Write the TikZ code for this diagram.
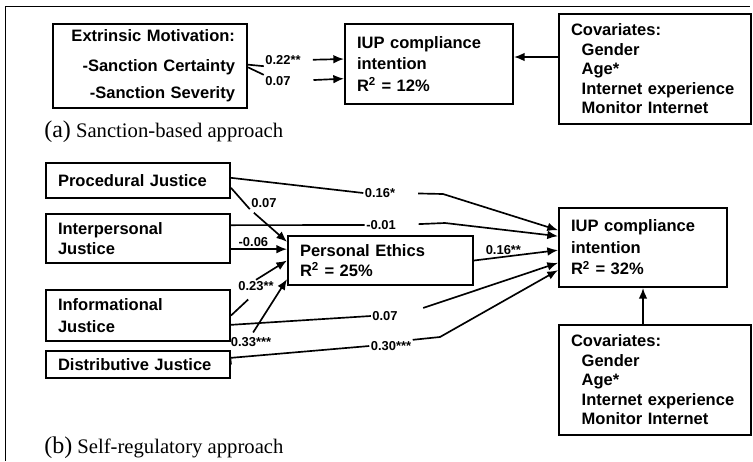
\documentclass[tikz,border=0pt]{standalone}
\usepackage{fontspec}
\setmainfont{Liberation Serif}
\newfontfamily\arialfont{Liberation Sans}
\usetikzlibrary{arrows.meta}

\begin{document}
\begin{tikzpicture}[x=0.75pt, y=-0.75pt,
  box/.style = {draw, line width=1.5pt, inner xsep=9pt, inner ysep=1pt, align=left, font=\arialfont\bfseries\fontsize{12.4}{14.6}\selectfont},
  jbox/.style = {box, minimum width=138pt, text width=120pt},
  iupbox/.style = {box, minimum width=126pt, minimum height=60pt, text width=108pt},
  covbox/.style = {box, minimum width=144pt, minimum height=82.5pt, text width=126pt},
  lab/.style = {inner sep=1pt, font=\arialfont\bfseries\fontsize{9.7}{11}\selectfont},
  captext/.style = {anchor=west, inner sep=0pt, font=\fontsize{15.5}{18}\selectfont},
  conn/.style = {line width=1.25pt},
  arr/.style = {line width=1.25pt, -{Latex[length=8pt,width=6.5pt]}}]

\useasboundingbox (0,0) rectangle (753,461);

% Frame
\draw[line width=0.7pt] (5,461) -- (5,6) -- (750,6);

% (a) boxes
\node[box, minimum width=145.5pt, minimum height=63pt, text width=127.5pt, align=right] (ext) at (150,66) {Extrinsic Motivation:\\[7.5pt] -Sanction Certainty\\[6pt] -Sanction Severity\\[-4pt]};
\node[iupbox] (iupA) at (429,64) {IUP compliance\\[1.5pt] intention\\[1.5pt] R\textsuperscript{2} = 12\%};
\node[covbox] (covA) at (655,69) {Covariates:\\ \hspace*{8pt}Gender\\ \hspace*{8pt}Age*\\ \hspace*{8pt}Internet experience\\ \hspace*{8pt}Monitor Internet};

% (b) boxes
\node[jbox, minimum height=26.25pt] (proc) at (138,180.5) {Procedural Justice};
\node[jbox, minimum height=36.75pt] (inter) at (138,238.5) {Interpersonal\\ Justice};
\node[jbox, minimum height=38.25pt] (info) at (138,315.5) {Informational\\[1.5pt] Justice};
\node[jbox, minimum height=20.25pt] (dist) at (138,364.5) {Distributive Justice};
\node[box, minimum width=138.75pt, minimum height=36.75pt, text width=120.75pt] (ethics) at (380.5,260.5) {Personal Ethics\\ R\textsuperscript{2} = 25\%};
\node[iupbox, minimum height=59.25pt] (iupB) at (643,247.5) {IUP compliance\\[1.5pt] intention\\[1.5pt] R\textsuperscript{2} = 32\%};
\node[covbox] (covB) at (655,380) {Covariates:\\ \hspace*{8pt}Gender\\ \hspace*{8pt}Age*\\ \hspace*{8pt}Internet experience\\ \hspace*{8pt}Monitor Internet};

% Path coefficients
\node[lab] (l22) at (283,60) {0.22**};
\node[lab] (l07a) at (278,81) {0.07};
\node[lab] (l16) at (380,193) {0.16*};
\node[lab] (l07p) at (264,203) {0.07};
\node[lab] (l01) at (381,225) {-0.01};
\node[lab] (l23) at (256,286) {0.23**};
\node[lab] (l33) at (251,342) {0.33***};
\node[lab] (l07i) at (385,316) {0.07};
\node[lab] (l30) at (391,346) {0.30***};

% Bends
\coordinate (k16) at (443,194);
\coordinate (k01) at (445,223);
\coordinate (k30) at (440,337);

% (a) lines
\draw[conn] ([yshift=1pt]ext.east) -- (l22.south west);
\draw[conn] ([yshift=-1pt]ext.east) -- (l07a.north west);
\draw[arr, shorten <=8pt] (l22.east) -- ([yshift=3.75pt]iupA.west);
\draw[arr, shorten <=16pt] (l07a.east) -- ([yshift=-11pt]iupA.west);
\draw[arr] ([yshift=9pt]covA.west) -- ([yshift=5.25pt]iupA.east);

% (b) lines
\draw[conn] ([yshift=2pt]proc.east) -- (l16.west);
\draw[arr, shorten <=16pt] (l16.east) -- (k16) -- ([yshift=13pt]iupB.west);
\draw[conn] ([yshift=-5.5pt]proc.east) -- (l07p.south west);
\draw[arr, shorten <=4pt] (l07p.south west) -- ([yshift=14pt]ethics.west);
\draw[conn] ([yshift=10pt]inter.east) -- (l01.west);
\draw[arr, shorten <=16pt] (l01.east) -- (k01) -- ([yshift=8.5pt]iupB.west);
\draw[arr] ([yshift=-8pt]inter.east) -- node[lab, above, pos=0.4] (l06) {-0.06} ([yshift=8.5pt]ethics.west);
\draw[conn, shorten >=8pt] (info.east) -- (l23.south);
\draw[arr] (l23.north) -- (ethics.west);
\draw[conn, shorten >=4pt] (dist.east) -- (l33.south west);
\draw[arr, shorten <=3pt] (l33.north) -- ([yshift=-14pt]ethics.west);
\draw[arr] (ethics.east) -- node[lab, above, pos=0.35] (l16e) {0.16**} ([yshift=-2pt]iupB.west);
\draw[conn] ([yshift=-7pt]info.east) -- (l07i.west);
\draw[arr, shorten <=19pt] (l07i.east) -- ([yshift=-11.5pt]iupB.west);
\draw[conn] ([yshift=5pt]dist.east) -- (l30.west);
\draw[arr] (l30.north east) -- (k30) -- ([yshift=-17pt]iupB.west);
\draw[arr] (iupB.south |- covB.north) -- (iupB.south);

% Captions
\node[captext] (capA) at (44,132) {{\fontsize{18}{20}\selectfont (a)} Sanction-based approach};
\node[captext] (capB) at (44,448) {{\fontsize{18}{20}\selectfont (b)} Self-regulatory approach};

\end{tikzpicture}
\end{document}
